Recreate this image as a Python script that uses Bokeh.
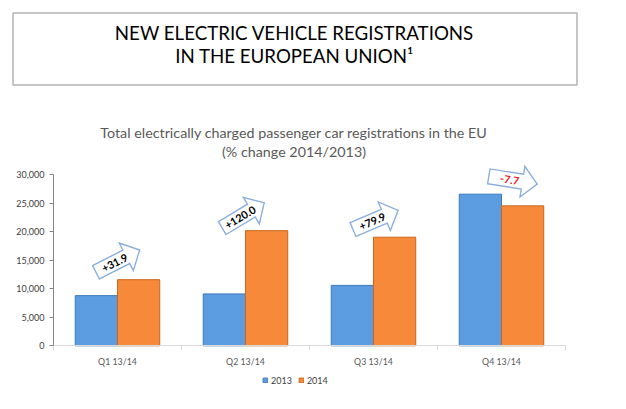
import math
from bokeh.plotting import figure
from bokeh.models import Range1d, FixedTicker, Legend, LegendItem, Label, BoxAnnotation
from bokeh.embed import file_html
from bokeh.resources import INLINE
from bokeh.core.properties import value

# ---------------- data ----------------
title_lines = ["NEW ELECTRIC VEHICLE REGISTRATIONS", "IN THE EUROPEAN UNION\u00b9"]
subtitle_lines = ["Total electrically charged passenger car registrations in the EU",
                  "(% change 2014/2013)"]
quarters = ["Q1 13/14", "Q2 13/14", "Q3 13/14", "Q4 13/14"]
series_names = ["2013", "2014"]
reg_2013 = [8800, 9100, 10600, 26600]
reg_2014 = [11600, 20200, 19050, 24550]
pct_change = ["+31.9", "+120.0", "+79.9", "-7.7"]
y_ticks = [0, 5000, 10000, 15000, 20000, 25000, 30000]
y_tick_labels = ["0", "5,000", "10,000", "15,000", "20,000", "25,000", "30,000"]
Y_MAX = 30000

# ---------------- layout / style ----------------
FONT = "Lato"
W, H = 610, 400
# plot area geometry in canvas pixels
AX_LEFT, AX_RIGHT = 53, 565          # x of category start / end
AX_ZERO, AX_TOP = 345.3, 174.3       # y of value 0 / Y_MAX (from top)
N = len(quarters)
px_x = (AX_RIGHT - AX_LEFT) / N
px_y = (AX_ZERO - AX_TOP) / Y_MAX
X0, X1 = -AX_LEFT / px_x, N + (W - AX_RIGHT) / px_x
Y0, Y1 = -(H - AX_ZERO) / px_y, AX_ZERO / px_y

BLUE, BLUE_EDGE = "#5b9de0", "#3b78b8"
ORANGE, ORANGE_EDGE = "#f6893a", "#c9661c"
ARROW_EDGE = "#8aaede"

# arrow annotations: tail-centre position (data units), rotation in degrees
arrow_layout = [
    dict(x=0.332, y=12900, angle=27),
    dict(x=1.318, y=20650, angle=31),
    dict(x=2.340, y=20400, angle=23),
    dict(x=3.401, y=29730, angle=-9),
]
arrow_text_colors = ["black", "black", "black", "#e3202a"]
ARROW_LEN, BODY_HALF, HEAD_HALF, HEAD_LEN, TEXT_AT = 49, 7.5, 15.5, 15, 21

p = figure(width=W, height=H, x_range=Range1d(X0, X1), y_range=Range1d(Y0, Y1),
           toolbar_location=None, output_backend="svg", min_border=0,
           min_border_left=0, min_border_right=0, min_border_top=0, min_border_bottom=0)
p.grid.visible = False
p.outline_line_color = None

# header: boxed title and subtitle (canvas units, y from top)
p.add_layout(BoxAnnotation(left=12.5, right=576.5, top=12.5, bottom=84.5,
                           left_units="canvas", right_units="canvas",
                           top_units="canvas", bottom_units="canvas",
                           fill_color=None, line_color="black", line_width=1.5))
for txt, yy in zip(title_lines, [32.5, 55.5]):
    p.add_layout(Label(x=294, y=yy, x_units="canvas", y_units="canvas", text=txt,
                       text_align="center", text_baseline="alphabetic", text_font=FONT,
                       text_font_size="18.7px", text_color="black"))
for txt, yy in zip(subtitle_lines, [131.5, 151]):
    p.add_layout(Label(x=293.5, y=yy, x_units="canvas", y_units="canvas", text=txt,
                       text_align="center", text_baseline="alphabetic", text_font=FONT,
                       text_font_size="14.3px", text_color="#595959"))

xs = [i + 0.5 for i in range(N)]
r13 = p.vbar(x=[x - 0.165 for x in xs], top=reg_2013, width=0.33, fill_color=BLUE,
             line_color=BLUE_EDGE, line_width=1)
r14 = p.vbar(x=[x + 0.165 for x in xs], top=reg_2014, width=0.33, fill_color=ORANGE,
             line_color=ORANGE_EDGE, line_width=1)

# y axis
p.yaxis.fixed_location = 0
p.yaxis.ticker = FixedTicker(ticks=y_ticks)
p.yaxis.major_label_overrides = {t: l for t, l in zip(y_ticks, y_tick_labels)}
p.yaxis.bounds = (0, Y_MAX)
p.yaxis.axis_line_color = "#868686"
p.yaxis.major_tick_line_color = "#868686"
p.yaxis.major_tick_out = 4
p.yaxis.major_tick_in = 0
p.yaxis.minor_tick_line_color = None
p.yaxis.major_label_standoff = 5
p.yaxis.major_label_text_font = FONT
p.yaxis.major_label_text_font_size = "9px"
p.yaxis.major_label_text_color = "#404040"

# x axis
p.xaxis.fixed_location = 0
p.xaxis.bounds = (0, N)
p.xaxis.ticker = FixedTicker(ticks=xs, minor_ticks=list(range(N + 1)))
p.xaxis.major_label_overrides = {x: q for x, q in zip(xs, quarters)}
p.xaxis.axis_line_color = "#d9d9d9"
p.xaxis.major_tick_line_color = None
p.xaxis.major_tick_out = 0
p.xaxis.major_tick_in = 0
p.xaxis.minor_tick_line_color = "#d9d9d9"
p.xaxis.minor_tick_out = 5
p.xaxis.minor_tick_in = 0
p.xaxis.major_label_standoff = 5
p.xaxis.major_label_text_font = FONT
p.xaxis.major_label_text_font_size = "8.8px"
p.xaxis.major_label_text_color = "#595959"

# arrows (block arrows with % change)
shape = [(0, -BODY_HALF), (ARROW_LEN - HEAD_LEN, -BODY_HALF), (ARROW_LEN - HEAD_LEN, -HEAD_HALF),
         (ARROW_LEN, 0), (ARROW_LEN - HEAD_LEN, HEAD_HALF), (ARROW_LEN - HEAD_LEN, BODY_HALF),
         (0, BODY_HALF)]
pxs, pys, tx, ty, ta = [], [], [], [], []
for a in arrow_layout:
    th = math.radians(a["angle"])
    c, s = math.cos(th), math.sin(th)
    pxs.append([a["x"] + (u * c - v * s) / px_x for u, v in shape])
    pys.append([a["y"] + (u * s + v * c) / px_y for u, v in shape])
    tx.append(a["x"] + TEXT_AT * c / px_x)
    ty.append(a["y"] + TEXT_AT * s / px_y)
    ta.append(th)
p.patches(xs=pxs, ys=pys, fill_color="white", line_color=ARROW_EDGE, line_width=1.4,
          line_join="miter")
p.text(x=tx, y=ty, text=pct_change, angle=ta, text_align="center", text_baseline="middle",
       text_font=value(FONT), text_font_size="10.8px", text_font_style="bold",
       text_color=arrow_text_colors)

legend = Legend(items=[LegendItem(label=series_names[0], renderers=[r13]),
                       LegendItem(label=series_names[1], renderers=[r14])],
                orientation="horizontal", location=(262, 14), margin=0, padding=0,
                spacing=6, label_standoff=3, glyph_width=6, glyph_height=6,
                label_height=12, label_text_font=FONT, label_text_font_size="9px",
                label_text_color="#404040", border_line_color=None,
                background_fill_alpha=0)
p.add_layout(legend)

open("out.html", "w").write(file_html(p, INLINE))
